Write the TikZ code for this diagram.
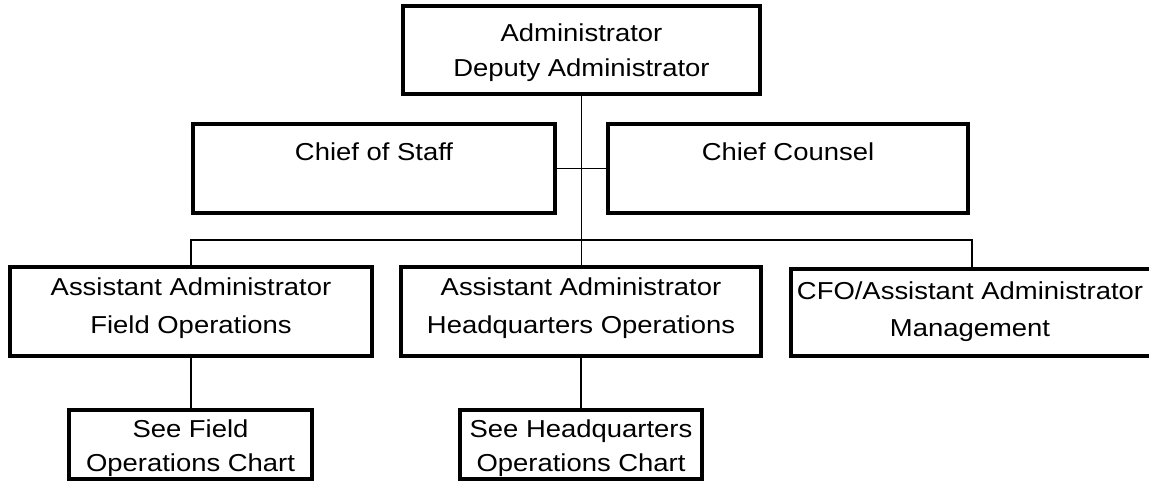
\documentclass[tikz,border=0pt]{standalone}
\usepackage{fontspec}
\setmainfont{Liberation Sans}[FakeStretch=1.12]
\begin{document}
\begin{tikzpicture}[x=1pt,y=-1pt,
  box/.style={draw, line width=4pt, inner sep=0pt, outer sep=0pt, anchor=center},
  txt/.style={font=\fontsize{24.5}{24.5}\selectfont, inner sep=0pt, anchor=base},
  conn/.style={line width=1.7pt}]
\clip (0,0) rectangle (1149,482);
% boxes
\node[box, minimum width=357pt, minimum height=88pt] (admin) at (581.5,50) {};
\node[txt] (adminT1) at (581.5,41.7) {Administrator};
\node[txt] (adminT2) at (581.5,76) {Deputy Administrator};

\node[box, minimum width=362pt, minimum height=89pt] (cos) at (374,168.5) {};
\node[txt] (cosT) at (374,160) {Chief of Staff};
\node[box, minimum width=360pt, minimum height=89pt] (cc) at (788,168.5) {};
\node[txt] (ccT) at (788,160) {Chief Counsel};

\node[box, minimum width=362pt, minimum height=89pt] (fo) at (191,311.5) {};
\node[txt] (foT1) at (191,295) {Assistant Administrator};
\node[txt] (foT2) at (191,333.3) {Field Operations};
\node[box, minimum width=360pt, minimum height=89pt] (hq) at (581,311.5) {};
\node[txt] (hqT1) at (581,295) {Assistant Administrator};
\node[txt] (hqT2) at (581,333.3) {Headquarters Operations};
\node[box, minimum width=362pt, minimum height=87pt] (cfo) at (972,312) {};
\node[txt] (cfoT1) at (970,299) {CFO/Assistant Administrator};
\node[txt] (cfoT2) at (970,336.5) {Management};

\node[box, minimum width=243pt, minimum height=69pt] (sf) at (190.5,444.5) {};
\node[txt] (sfT1) at (190.5,437.3) {See Field};
\node[txt] (sfT2) at (190.5,471.7) {Operations Chart};
\node[box, minimum width=242pt, minimum height=69pt] (sh) at (581,444.5) {};
\node[txt] (shT1) at (581,437.3) {See Headquarters};
\node[txt] (shT2) at (581,471.7) {Operations Chart};

% connectors
\coordinate (bus) at (581,240);
\draw[conn] (admin.south) -- (admin.south |- hq.north);
\draw[conn] (cos.east) -- (cc.west);
\draw[conn] (fo.north) -- (fo.north |- bus) -- (cfo.north |- bus) -- (cfo.north);
\draw[conn] (fo.south) -- (fo.south |- sf.north);
\draw[conn] (hq.south) -- (sh.north);
\end{tikzpicture}
\end{document}
